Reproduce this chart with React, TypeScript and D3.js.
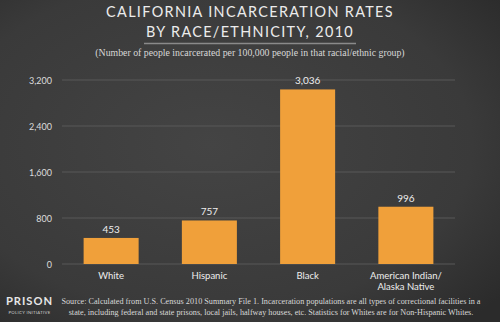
import React from "react";
import * as d3 from "d3";

const categories = ["White", "Hispanic", "Black", "American Indian/\nAlaska Native"];
const values = [453, 757, 3036, 996];
const valueLabels = ["453", "757", "3,036", "996"];
const yTicks = [0, 800, 1600, 2400, 3200];
const titleLines = ["CALIFORNIA INCARCERATION RATES", "BY RACE/ETHNICITY, 2010"];
const subtitle = "(Number of people incarcerated per 100,000 people in that racial/ethnic group)";
const sourceLines = [
  "Source: Calculated from U.S. Census 2010 Summary File 1. Incarceration populations are all types of correctional facilities in a",
  "state, including federal and state prisons, local jails, halfway houses, etc. Statistics for Whites are for Non-Hispanic Whites.",
];

const W = 500;
const H = 322;
const sans = "'Century Gothic', 'URW Gothic', Lato, 'DejaVu Sans', sans-serif";
const serif = "'Liberation Serif', 'DejaVu Serif', serif";

export default function App() {
  const x = d3.scaleBand<string>().domain(categories).range([62, 455]).paddingInner(0.44).paddingOuter(0.22);
  const y = d3.scaleLinear().domain([0, 3200]).range([264, 80]);
  const fmt = d3.format(",");

  return (
    <svg width={W} height={H} style={{ position: "absolute", left: 0, top: 0, display: "block" }}>
      <defs>
        <radialGradient id="bg" cx="0.42" cy="0.45" r="0.75">
          <stop offset="0" stopColor="#444444" />
          <stop offset="0.7" stopColor="#3a3a3a" />
          <stop offset="1" stopColor="#2b2b2b" />
        </radialGradient>
      </defs>
      <rect x={0} y={0} width={W} height={H} fill="url(#bg)" />

      {titleLines.map((t, i) => (
        <text key={i} x={250} y={17 + i * 20} textAnchor="middle" fill="#ececec" fontFamily={sans}
          fontSize={14.4} letterSpacing={1.35}>{t}</text>
      ))}
      <line x1={144} x2={356} y1={43.5} y2={43.5} stroke="#8a8a8a" strokeWidth={1.5} />
      <text x={250} y={56} textAnchor="middle" fill="#d8d8d8" fontFamily={serif} fontSize={9.8}>{subtitle}</text>

      {yTicks.map((t) => (
        <g key={t}>
          <line x1={62} x2={455} y1={y(t)} y2={y(t)} stroke="#585858" strokeWidth={1} />
          <text x={52} y={y(t) + 3.5} textAnchor="end" fill="#dcdcdc" fontFamily={sans} fontSize={9}>{fmt(t)}</text>
        </g>
      ))}

      {categories.map((c, i) => {
        const bx = x(c)!;
        const cx = bx + x.bandwidth() / 2;
        const lines = c.split("\n");
        return (
          <g key={c}>
            <rect x={bx} y={y(values[i])} width={x.bandwidth()} height={y(0) - y(values[i])} fill="#f0a03a" />
            <text x={cx} y={y(values[i]) - 5} textAnchor="middle" fill="#eeeeee" fontFamily={sans} fontSize={10}>{valueLabels[i]}</text>
            {lines.map((l, j) => (
              <text key={j} x={cx} y={279 + j * 10.5} textAnchor="middle" fill="#eeeeee" fontFamily={sans} fontSize={9.5}>{l}</text>
            ))}
          </g>
        );
      })}

      <text x={29.5} y={305} textAnchor="middle" fill="#e6e6e6" fontFamily={sans} fontSize={11.2} fontWeight="bold" letterSpacing={1}>PRISON</text>
      <text x={29.5} y={313.5} textAnchor="middle" fill="#cfcfcf" fontFamily={sans} fontSize={4.3} letterSpacing={0.3}>POLICY INITIATIVE</text>

      {sourceLines.map((s, i) => (
        <text key={i} x={271} y={304 + i * 11} textAnchor="middle" fill="#d8d8d8" fontFamily={serif} fontSize={8.2}>{s}</text>
      ))}
    </svg>
  );
}
